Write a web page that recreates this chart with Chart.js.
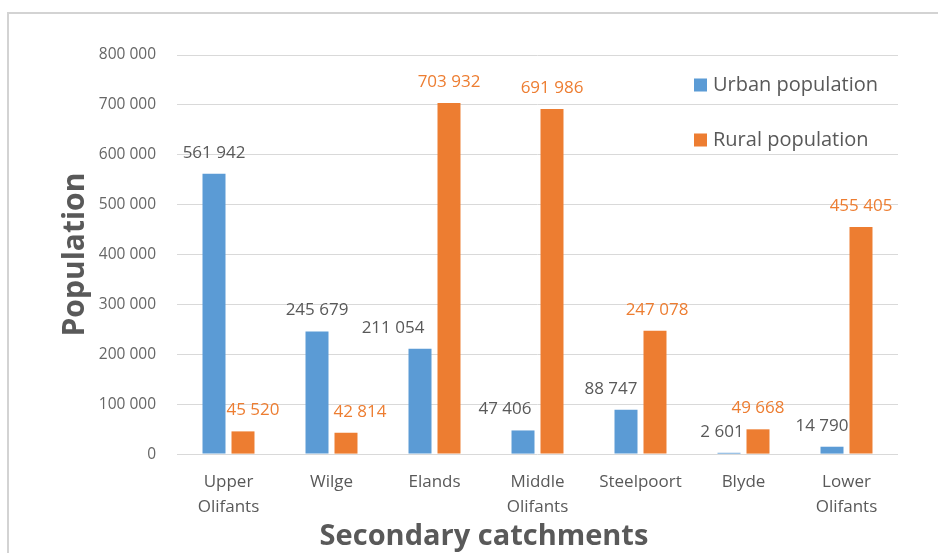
<!DOCTYPE html>
<html><head><meta charset="utf-8">
<script src="https://cdn.jsdelivr.net/npm/chart.js@4.4.0/dist/chart.umd.min.js"></script>
<style>
html,body{margin:0;padding:0;background:#fff;}
#wrap{position:relative;width:938px;height:553px;overflow:hidden;background:#fff;}
#frame{position:absolute;left:7px;top:12px;right:-10px;bottom:-10px;border-top:2px solid #d3d3d3;border-left:2px solid #d3d3d3;}
canvas{position:absolute;left:0;top:0;}
</style></head><body>
<div id="wrap"><div id="frame"></div><canvas id="c" width="938" height="553"></canvas></div>
<script>
// ---- data ----
const categories = [['Upper', 'Olifants'], 'Wilge', 'Elands', ['Middle', 'Olifants'], 'Steelpoort', 'Blyde', ['Lower', 'Olifants']];
const urbanPopulation = [561942, 245679, 211054, 47406, 88747, 2601, 14790];
const ruralPopulation = [45520, 42814, 703932, 691986, 247078, 49668, 455405];
const yTickValues = [0, 100000, 200000, 300000, 400000, 500000, 600000, 700000, 800000];
const seriesNames = ['Urban population', 'Rural population'];

const FONT = "'Open Sans', 'Noto Sans', sans-serif";
const GRAY = '#595959';
const BLUE = '#5B9BD5';
const ORANGE = '#ED7D31';

function fmt(v) { return String(v).replace(/\B(?=(\d{3})+(?!\d))/g, ' '); }

const barValues = {
  id: 'barValues',
  afterDatasetsDraw(chart, args, opts) {
    const ctx = chart.ctx;
    ctx.save();
    ctx.font = '17px ' + FONT;
    ctx.textAlign = 'center';
    ctx.textBaseline = 'middle';
    chart.data.datasets.forEach((ds, di) => {
      const meta = chart.getDatasetMeta(di);
      ctx.fillStyle = opts.colors[di];
      meta.data.forEach((bar, i) => {
        const dx = opts.shift[di][i] || 0;
        ctx.fillText(fmt(ds.data[i]), bar.x + dx, bar.y - opts.gap);
      });
    });
    ctx.restore();
  }
};

const insideLegend = {
  id: 'insideLegend',
  afterDraw(chart, args, opts) {
    const ctx = chart.ctx;
    const a = chart.chartArea;
    ctx.save();
    ctx.font = '20px ' + FONT;
    ctx.textBaseline = 'middle';
    ctx.textAlign = 'left';
    chart.data.datasets.forEach((ds, di) => {
      const x = a.right - opts.fromRight;
      const y = a.top + opts.firstOffset + di * opts.spacing;
      ctx.fillStyle = ds.backgroundColor;
      ctx.fillRect(x, y - 6.5, 13, 13);
      ctx.fillStyle = GRAY;
      ctx.fillText(ds.label, x + 19, y);
    });
    ctx.restore();
  }
};

new Chart(document.getElementById('c'), {
  type: 'bar',
  data: {
    labels: categories,
    datasets: [
      { label: seriesNames[0], data: urbanPopulation, backgroundColor: BLUE },
      { label: seriesNames[1], data: ruralPopulation, backgroundColor: ORANGE }
    ]
  },
  plugins: [barValues, insideLegend],
  options: {
    responsive: false,
    animation: false,
    devicePixelRatio: 1,
    layout: { padding: { left: 70, right: 40, top: 55, bottom: 0 } },
    datasets: { bar: { categoryPercentage: 0.563, barPercentage: 0.793 } },
    plugins: {
      legend: { display: false },
      tooltip: { enabled: false },
      title: {
        display: true,
        position: 'bottom',
        text: 'Secondary catchments',
        color: GRAY,
        font: { family: FONT, size: 29, weight: 'bold', lineHeight: 1.1 },
        padding: 0
      },
      barValues: {
        colors: [GRAY, ORANGE],
        gap: 21,
        shift: [[0, 0, -27, -18, -15, -7, -10], [10, 14, 0, 0, 2, 0, 0]]
      },
      insideLegend: { fromRight: 204, firstOffset: 30, spacing: 55 }
    },
    scales: {
      x: {
        grid: { display: false },
        border: { display: false },
        ticks: {
          color: GRAY,
          font: { family: FONT, size: 17, lineHeight: 1.5 },
          padding: 7,
          maxRotation: 0,
          autoSkip: false
        },
        afterFit(s) { s.height = 67; }
      },
      y: {
        min: 0,
        max: 800000,
        afterBuildTicks(s) { s.ticks = yTickValues.map(v => ({ value: v })); },
        grid: { color: '#d9d9d9', lineWidth: 1, drawTicks: false },
        border: { display: false },
        ticks: {
          color: '#666666',
          font: { family: FONT, size: 15.5 },
          padding: 21,
          callback: v => fmt(v)
        },
        title: {
          display: true,
          text: 'Population',
          color: GRAY,
          font: { family: FONT, size: 30, weight: 'bold', lineHeight: 1.1 },
          padding: { top: -11.5, bottom: 0 }
        },
        afterFit(s) { s.width = 107; }
      }
    }
  }
});
</script>
</body></html>
